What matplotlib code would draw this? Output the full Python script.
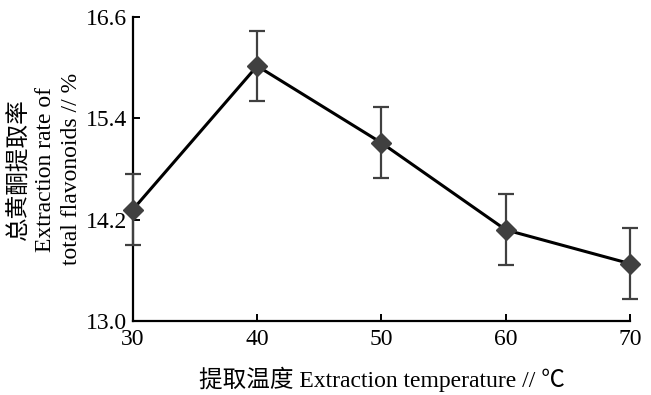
import numpy as np
import matplotlib.pyplot as plt

# 提取温度对总黄酮提取率的影响
temps = [30, 40, 50, 60, 70]
rate = [14.32, 16.02, 15.11, 14.08, 13.68]
err = [0.42, 0.42, 0.42, 0.42, 0.42]
yticks = [13.0, 14.2, 15.4, 16.6]

plt.rcParams['font.family'] = ['Liberation Serif', 'Noto Sans CJK SC']
plt.rcParams['font.size'] = 16

fig = plt.figure(figsize=(6.51, 3.95), dpi=100)
ax = fig.add_axes([0.204, 0.187, 0.764, 0.770])

ax.plot(temps, rate, color='black', lw=2.2, zorder=2)
eb = ax.errorbar(temps, rate, yerr=err, fmt='none', ecolor='#404040',
                 elinewidth=1.6, capsize=5.5, capthick=1.6, zorder=3)
for art in eb.get_children():
    art.set_clip_on(False)
ax.plot(temps, rate, ls='none', marker='D', ms=10.5, color='#404040',
        zorder=4, clip_on=False)

ax.set_xlim(30, 70)
ax.set_ylim(13.0, 16.6)
ax.set_xticks(temps)
ax.set_yticks(yticks)
ax.set_yticklabels(['%.1f' % v for v in yticks])

for s in ['top', 'right']:
    ax.spines[s].set_visible(False)
for s in ['left', 'bottom']:
    ax.spines[s].set_linewidth(1.6)
ax.tick_params(direction='in', length=5, width=1.4, labelsize=17)
ax.tick_params(axis='x', pad=6)
ax.tick_params(axis='y', pad=4)

ax.set_xlabel('提取温度 Extraction temperature // ℃', fontsize=17, labelpad=12)
ax.set_ylabel('总黄酮提取率\nExtraction rate of\ntotal flavonoids // %',
              fontsize=17, labelpad=3, linespacing=1.3)

fig.savefig('out.png', dpi=100)
